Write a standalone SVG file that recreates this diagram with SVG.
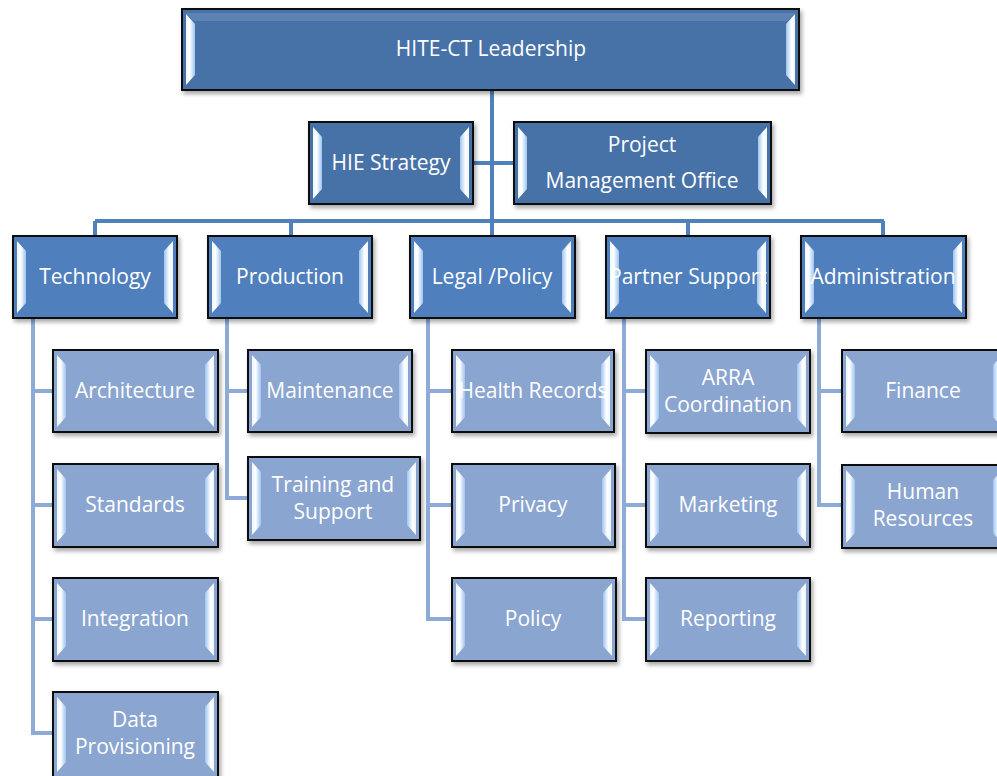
<svg xmlns="http://www.w3.org/2000/svg" width="997" height="776" viewBox="0 0 997 776">
  <style>
    .box { stroke: #111; stroke-width: 2; filter: url(#shadow); }
    .lead { fill: #4672a8; }
    .dept { fill: #4f7fbd; }
    .unit { fill: #8aa5cf; }
    .bev { fill: url(#bevelL); }
    .bevR { fill: url(#bevelR); }
    .edgeT { fill: #ffffff; opacity: 0.12; }
    .lbl { font-family: "Open Sans", "Liberation Sans", sans-serif; font-size: 21px; fill: #ffffff; text-anchor: middle; }
    .main { fill: none; stroke: #4f81bd; stroke-width: 4; }
    .sub { fill: none; stroke: #8eaad6; stroke-width: 4; }
  </style>
  <defs>
    <filter id="shadow" x="-10%" y="-10%" width="120%" height="130%">
      <feDropShadow dx="2" dy="3" stdDeviation="2" flood-color="#000" flood-opacity="0.35"/>
    </filter>
    <linearGradient id="bevelL" x1="0" y1="0" x2="1" y2="0">
      <stop offset="0" stop-color="#eef6ff"/>
      <stop offset="0.4" stop-color="#ffffff"/>
      <stop offset="1" stop-color="#9ec4ee"/>
    </linearGradient>
    <linearGradient id="bevelR" x1="0" y1="0" x2="1" y2="0">
      <stop offset="0" stop-color="#9ec4ee"/>
      <stop offset="0.6" stop-color="#ffffff"/>
      <stop offset="1" stop-color="#eef6ff"/>
    </linearGradient>
  </defs>

  <rect width="997" height="776" fill="#ffffff"/>

  <!-- connectors -->
  <g id="connectors">
    <path class="main" d="M492,90 V221 M95,221 H884 M95,221 V236 M291,221 V236 M492,221 V236 M688,221 V236 M883,221 V236 M473,163 H513"/>
    <path class="sub" d="M33,318 V733 H53 M33,391 H53 M33,505 H53 M33,619 H53"/>
    <path class="sub" d="M227,318 V498 H247 M227,391 H248"/>
    <path class="sub" d="M428,318 V619 H452 M428,391 H452 M428,505 H452"/>
    <path class="sub" d="M624,318 V619 H646 M624,391 H646 M624,505 H646"/>
    <path class="sub" d="M819,318 V505 H842 M819,391 H842"/>
  </g>

  <!-- leadership -->
  <g id="leadership">
    <rect class="box lead" x="182" y="9" width="617" height="81"/>
    <polygon class="edgeT" points="186,13 795,13 787,21 194,21"/>
    <polygon class="bev" points="186,14 195,24 195,75 186,85"/>
    <polygon class="bevR" points="795,14 786,24 786,75 795,85"/>
    <text class="lbl" x="491" y="56">HITE-CT Leadership</text>
  </g>

  <g id="hie-strategy">
    <rect class="box lead" x="309" y="122" width="164" height="82"/>
    <polygon class="bev" points="313,127 322,137 322,189 313,199"/>
    <polygon class="bevR" points="469,127 460,137 460,189 469,199"/>
    <text class="lbl" x="391" y="170">HIE Strategy</text>
  </g>

  <g id="pmo">
    <rect class="box lead" x="514" y="122" width="257" height="82"/>
    <polygon class="bev" points="518,127 527,137 527,189 518,199"/>
    <polygon class="bevR" points="767,127 758,137 758,189 767,199"/>
    <text class="lbl" x="642" y="152">Project</text>
    <text class="lbl" x="642" y="188">Management Office</text>
  </g>

  <!-- departments -->
  <g id="technology">
    <rect class="box dept" x="13" y="236" width="164" height="82"/>
    <polygon class="bev" points="17,241 26,251 26,303 17,313"/>
    <polygon class="bevR" points="173,241 164,251 164,303 173,313"/>
    <text class="lbl" x="95" y="284">Technology</text>
  </g>
  <g id="production">
    <rect class="box dept" x="208" y="236" width="164" height="82"/>
    <polygon class="bev" points="212,241 221,251 221,303 212,313"/>
    <polygon class="bevR" points="368,241 359,251 359,303 368,313"/>
    <text class="lbl" x="290" y="284">Production</text>
  </g>
  <g id="legal-policy">
    <rect class="box dept" x="410" y="236" width="165" height="82"/>
    <polygon class="bev" points="414,241 423,251 423,303 414,313"/>
    <polygon class="bevR" points="571,241 562,251 562,303 571,313"/>
    <text class="lbl" x="492" y="284">Legal /Policy</text>
  </g>
  <g id="partner-support">
    <rect class="box dept" x="606" y="236" width="164" height="82"/>
    <polygon class="bev" points="610,241 619,251 619,303 610,313"/>
    <polygon class="bevR" points="766,241 757,251 757,303 766,313"/>
    <text class="lbl" x="688" y="284">Partner Support</text>
  </g>
  <g id="administration">
    <rect class="box dept" x="801" y="236" width="165" height="82"/>
    <polygon class="bev" points="805,241 814,251 814,303 805,313"/>
    <polygon class="bevR" points="962,241 953,251 953,303 962,313"/>
    <text class="lbl" x="883" y="284">Administration</text>
  </g>

  <!-- technology units -->
  <g id="architecture">
    <rect class="box unit" x="53" y="350" width="165" height="82"/>
    <polygon class="bev" points="57,355 66,365 66,417 57,427"/>
    <polygon class="bevR" points="214,355 205,365 205,417 214,427"/>
    <text class="lbl" x="135" y="398">Architecture</text>
  </g>
  <g id="standards">
    <rect class="box unit" x="53" y="464" width="165" height="83"/>
    <polygon class="bev" points="57,469 66,479 66,532 57,542"/>
    <polygon class="bevR" points="214,469 205,479 205,532 214,542"/>
    <text class="lbl" x="135" y="512">Standards</text>
  </g>
  <g id="integration">
    <rect class="box unit" x="53" y="578" width="165" height="83"/>
    <polygon class="bev" points="57,583 66,593 66,646 57,656"/>
    <polygon class="bevR" points="214,583 205,593 205,646 214,656"/>
    <text class="lbl" x="135" y="626">Integration</text>
  </g>
  <g id="data-provisioning">
    <rect class="box unit" x="53" y="692" width="165" height="86"/>
    <polygon class="bev" points="57,697 66,707 66,762 57,772"/>
    <polygon class="bevR" points="214,697 205,707 205,762 214,772"/>
    <text class="lbl" x="135" y="727">Data</text>
    <text class="lbl" x="135" y="754">Provisioning</text>
  </g>

  <!-- production units -->
  <g id="maintenance">
    <rect class="box unit" x="248" y="350" width="164" height="82"/>
    <polygon class="bev" points="252,355 261,365 261,417 252,427"/>
    <polygon class="bevR" points="408,355 399,365 399,417 408,427"/>
    <text class="lbl" x="330" y="398">Maintenance</text>
  </g>
  <g id="training-support">
    <rect class="box unit" x="248" y="457" width="172" height="83"/>
    <polygon class="bev" points="252,462 261,472 261,525 252,535"/>
    <polygon class="bevR" points="416,462 407,472 407,525 416,535"/>
    <text class="lbl" x="333" y="492">Training and</text>
    <text class="lbl" x="333" y="519">Support</text>
  </g>

  <!-- legal units -->
  <g id="health-records">
    <rect class="box unit" x="452" y="350" width="162" height="82"/>
    <polygon class="bev" points="456,355 465,365 465,417 456,427"/>
    <polygon class="bevR" points="610,355 601,365 601,417 610,427"/>
    <text class="lbl" x="533" y="398">Health Records</text>
  </g>
  <g id="privacy">
    <rect class="box unit" x="452" y="464" width="163" height="83"/>
    <polygon class="bev" points="456,469 465,479 465,532 456,542"/>
    <polygon class="bevR" points="611,469 602,479 602,532 611,542"/>
    <text class="lbl" x="533" y="512">Privacy</text>
  </g>
  <g id="policy">
    <rect class="box unit" x="452" y="578" width="164" height="83"/>
    <polygon class="bev" points="456,583 465,593 465,646 456,656"/>
    <polygon class="bevR" points="612,583 603,593 603,646 612,656"/>
    <text class="lbl" x="533" y="626">Policy</text>
  </g>

  <!-- partner units -->
  <g id="arra-coordination">
    <rect class="box unit" x="646" y="350" width="164" height="83"/>
    <polygon class="bev" points="650,355 659,365 659,418 650,428"/>
    <polygon class="bevR" points="806,355 797,365 797,418 806,428"/>
    <text class="lbl" x="728" y="385">ARRA</text>
    <text class="lbl" x="728" y="412">Coordination</text>
  </g>
  <g id="marketing">
    <rect class="box unit" x="646" y="464" width="164" height="83"/>
    <polygon class="bev" points="650,469 659,479 659,532 650,542"/>
    <polygon class="bevR" points="806,469 797,479 797,532 806,542"/>
    <text class="lbl" x="728" y="512">Marketing</text>
  </g>
  <g id="reporting">
    <rect class="box unit" x="646" y="578" width="164" height="83"/>
    <polygon class="bev" points="650,583 659,593 659,646 650,656"/>
    <polygon class="bevR" points="806,583 797,593 797,646 806,656"/>
    <text class="lbl" x="728" y="626">Reporting</text>
  </g>

  <!-- administration units -->
  <g id="finance">
    <rect class="box unit" x="842" y="350" width="164" height="82"/>
    <polygon class="bev" points="846,355 855,365 855,417 846,427"/>
    <polygon class="bevR" points="1002,355 993,365 993,417 1002,427"/>
    <text class="lbl" x="923" y="398">Finance</text>
  </g>
  <g id="human-resources">
    <rect class="box unit" x="842" y="465" width="164" height="83"/>
    <polygon class="bev" points="846,470 855,480 855,533 846,543"/>
    <polygon class="bevR" points="1002,470 993,480 993,533 1002,543"/>
    <text class="lbl" x="923" y="499">Human</text>
    <text class="lbl" x="923" y="526">Resources</text>
  </g>
</svg>
